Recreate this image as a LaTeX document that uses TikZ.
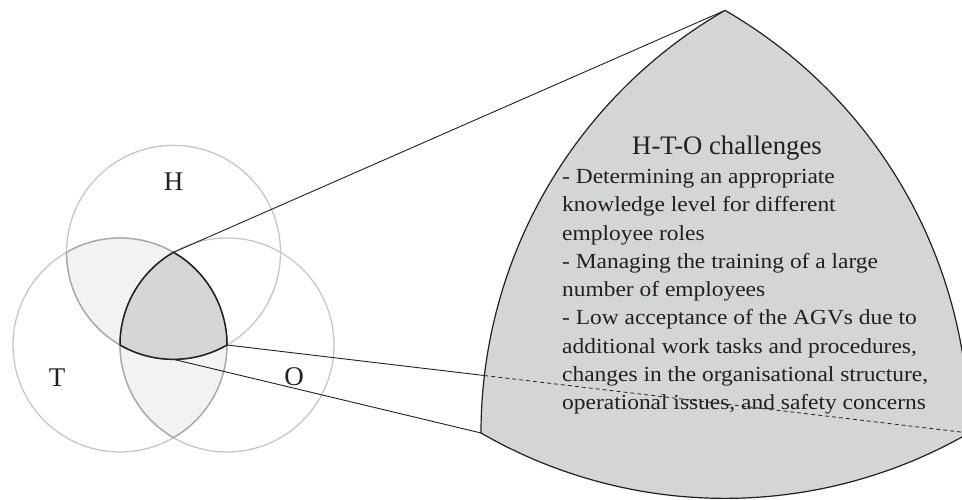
\documentclass[tikz,border=0pt]{standalone}
\usepackage{fontspec}
\setmainfont{Liberation Serif}
\newfontfamily\bodyfont[FakeStretch=1.09]{Liberation Serif}
\usetikzlibrary{calc}
\definecolor{circgray}{HTML}{C6C6C6}
\definecolor{lensedge}{HTML}{A8A8A8}
\definecolor{lensfill}{HTML}{F2F2F2}
\definecolor{corefill}{HTML}{D4D5D7}
\definecolor{ink}{HTML}{231F20}
\tikzset{
  circ/.style={draw=circgray, line width=1.3pt},
  lensline/.style={draw=lensedge, line width=1.3pt},
  core/.style={fill=corefill, draw=ink, line width=1.5pt, line join=round},
  bigcore/.style={fill=corefill, draw=ink, line width=1.2pt, line join=round},
  conn/.style={draw=ink, line width=0.9pt},
  connhidden/.style={draw=ink, line width=0.8pt, dash pattern=on 4pt off 3pt},
  setlabel/.style={text=ink, font=\fontsize{27}{30}\selectfont, inner sep=0pt, anchor=base},
  bodyline/.style={text=ink, font=\bodyfont\fontsize{21.5}{28}\selectfont, inner sep=0pt, anchor=base west},
}
\begin{document}
\begin{tikzpicture}[x=1pt,y=1pt]
\useasboundingbox (0,0) rectangle (962,500);
\clip (0,0) rectangle (962,500);
\def\r{107}
\def\R{488}
% small Venn centres (they are the vertices of the triple region)
\coordinate (T) at (120,155);
\coordinate (O) at (227,155);
\coordinate (H) at (173.5,247.66);
\coordinate (P) at (66.5,247.66);
\coordinate (Q) at (173.5,62.34);
\coordinate (D) at (173.5,140.66);
% enlarged region
\coordinate (BL) at (481,67);
\coordinate (BR) at (969,67);
\coordinate (BT) at (725,489.62);

% lens fills
\fill[lensfill] (P) arc[start angle=120,end angle=0,radius=\r] arc[start angle=300,end angle=180,radius=\r] -- cycle;
\fill[lensfill] (H) arc[start angle=60,end angle=-60,radius=\r] arc[start angle=240,end angle=120,radius=\r] -- cycle;
% circles
\draw[circ] (T) circle[radius=\r];
\draw[circ] (O) circle[radius=\r];
\draw[circ] (H) circle[radius=\r];
% lens edges
\draw[lensline] (P) arc[start angle=120,end angle=0,radius=\r] arc[start angle=300,end angle=180,radius=\r] -- cycle;
\draw[lensline] (H) arc[start angle=60,end angle=-60,radius=\r] arc[start angle=240,end angle=120,radius=\r] -- cycle;
% triple region
\path[core] (H) arc[start angle=120,end angle=180,radius=\r] arc[start angle=240,end angle=300,radius=\r] arc[start angle=0,end angle=60,radius=\r] -- cycle;

% enlarged triple region
\path[bigcore] (BT) arc[start angle=120,end angle=180,radius=\R] arc[start angle=240,end angle=300,radius=\R] arc[start angle=0,end angle=60,radius=\R] -- cycle;

% connectors
\coordinate (X) at ($(BR)!488pt!(O)$);
\draw[conn] (H) -- (BT);
\draw[conn] (D) -- (BL);
\draw[conn] (O) -- (X);

% labels
\node[setlabel] (labH) at (173.5,309.3) {H};
\node[setlabel] (labT) at (57,113.3) {T};
\node[setlabel] (labO) at (294,114) {O};

% text
\node[text=ink, font=\fontsize{26.7}{30}\selectfont, inner sep=0pt, anchor=base] (title) at (727,345) {H-T-O challenges};
\node[bodyline] (l1) at (562,316.5) {- Determining an appropriate};
\node[bodyline] (l2) at (562,288.2) {knowledge level for different};
\node[bodyline] (l3) at (562,259.9) {employee roles};
\node[bodyline] (l4) at (562,231.6) {- Managing the training of a large};
\node[bodyline] (l5) at (562,203.3) {number of employees};
\node[bodyline] (l6) at (562,175.0) {- Low acceptance of the AGVs due to};
\node[bodyline] (l7) at (562,146.7) {additional work tasks and procedures,};
\node[bodyline] (l8) at (562,118.4) {changes in the organisational structure,};
\node[bodyline] (l9) at (562,90.1) {operational issues, and safety concerns};

\draw[connhidden] (X) -- (BR);
\end{tikzpicture}
\end{document}
